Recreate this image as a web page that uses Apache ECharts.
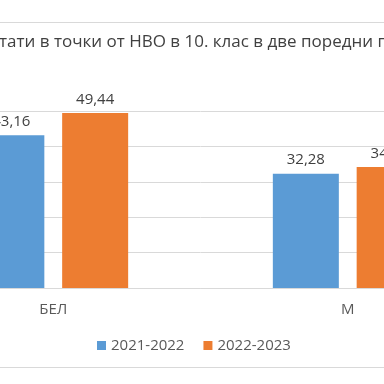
<!DOCTYPE html>
<html>
<head>
<meta charset="utf-8">
<script src="https://cdn.jsdelivr.net/npm/echarts@6/dist/echarts.min.js"></script>
<style>
html,body{margin:0;padding:0;width:384px;height:384px;overflow:hidden;background:#fff;position:relative;}
#frame{position:absolute;left:-100px;top:22px;width:600px;height:344px;border:1px solid #d9d9d9;}
#chart{width:600px;height:344px;}
</style>
</head>
<body>
<div id="frame"><div id="chart"></div></div>
<script>
const titleText = 'Резултати в точки от НВО в 10. клас в две поредни години';
const categories = ['БЕЛ', 'М'];
const seriesNames = ['2021-2022', '2022-2023'];
const values2021 = [43.16, 32.28];
const values2022 = [49.44, 34.21];
const yTicks = [0, 10, 20, 30, 40, 50];

const FONT = 'Open Sans';
const chart = echarts.init(document.getElementById('chart'), null, {renderer: 'canvas'});
const fmt = p => p.value.toFixed(2).replace('.', ',');
const labelStyle = {show: true, position: 'top', distance: 6, color: '#404040', fontSize: 15, fontFamily: FONT, formatter: fmt};
chart.setOption({
  animation: false,
  title: {text: titleText, left: 289, textAlign: 'center', top: 6, textStyle: {fontSize: 17, fontWeight: 'normal', color: '#404040', fontFamily: FONT}},
  legend: {data: seriesNames, left: 191, top: 310, itemWidth: 9, itemHeight: 9, itemGap: 19, icon: 'rect',
    textStyle: {fontSize: 15, color: '#595959', fontFamily: FONT}},
  grid: {left: 5, right: 6, top: 88, bottom: 79, outerBoundsMode: 'none', containLabel: false},
  xAxis: {type: 'category', data: categories,
    axisLine: {lineStyle: {color: '#d9d9d9'}}, axisTick: {show: false},
    axisLabel: {color: '#595959', fontSize: 15, fontFamily: FONT, margin: 14}},
  yAxis: {type: 'value', min: yTicks[0], max: yTicks[yTicks.length - 1], interval: yTicks[1] - yTicks[0],
    axisLabel: {show: false}, axisLine: {show: false}, axisTick: {show: false},
    splitLine: {lineStyle: {color: '#d9d9d9'}}},
  series: [
    {name: seriesNames[0], type: 'bar', data: values2021, barWidth: 66, barGap: '27%', itemStyle: {color: '#5b9bd5'}, label: labelStyle},
    {name: seriesNames[1], type: 'bar', data: values2022, barWidth: 66, barGap: '27%', itemStyle: {color: '#ed7d31'}, label: labelStyle}
  ]
});
</script>
</body>
</html>
